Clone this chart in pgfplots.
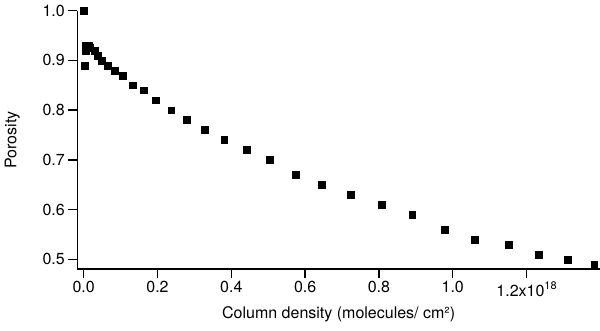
\documentclass[border=0pt]{standalone}
\usepackage{fontspec}
\setmainfont{TeX Gyre Heros}
\usepackage{pgfplots}
\pgfplotsset{compat=1.18}
\begin{document}
\begin{tikzpicture}[font=\fontsize{16}{18}\selectfont]
\begin{axis}[
  at={(0,0)}, anchor=south west,
  scale only axis, width=522.7pt, height=258.3pt,
  xmin=-0.0173, xmax=1.399, ymin=0.4805, ymax=1.0,
  axis x line=bottom, axis y line=left,
  axis line style={-, line width=1.2pt},
  tick align=outside, major tick length=9pt,
  tick style={line width=1.3pt, black},
  xtick={0,0.2,0.4,0.6,0.8,1.0,1.2},
  xticklabels={0.0,0.2,0.4,0.6,0.8,1.0,{1.2x10\raisebox{7pt}{\fontsize{11}{12}\selectfont 18}}},
  ytick={0.5,0.6,0.7,0.8,0.9,1.0},
  /pgf/number format/assume math mode=true,
  yticklabel style={/pgf/number format/fixed, /pgf/number format/fixed zerofill,
    /pgf/number format/precision=1},
  tick label style={font=\fontsize{16}{18}\selectfont},
  label style={font=\fontsize{16}{18}\selectfont},
  xlabel={Column density (molecules/ cm²)},
  ylabel={Porosity},
  every axis x label/.style={at={(axis description cs:0.5,0)}, anchor=base, yshift=-49pt},
  every axis y label/.style={at={(axis description cs:0,0.5)}, xshift=-65pt, rotate=90, anchor=center},
  clip=false,
]
\addplot[only marks, mark=square*, mark size=3.4pt, black] coordinates {
 (0,1.0) (0.003,0.89) (0.006,0.93) (0.015,0.93) (0.006,0.92) (0.017,0.925)
 (0.029,0.92) (0.037,0.91) (0.049,0.90) (0.065,0.89) (0.085,0.88) (0.106,0.87)
 (0.133,0.85) (0.163,0.84) (0.196,0.82) (0.237,0.80) (0.279,0.78) (0.327,0.76)
 (0.381,0.74) (0.441,0.72) (0.503,0.70) (0.575,0.67) (0.645,0.65) (0.724,0.63)
 (0.808,0.61) (0.890,0.59) (0.979,0.56) (1.060,0.54) (1.151,0.53) (1.232,0.51)
 (1.312,0.50) (1.383,0.49)};
\end{axis}
\pgfresetboundingbox
\path (-77.3pt,-61pt) rectangle (522.7pt,269pt);
\end{tikzpicture}
\end{document}
